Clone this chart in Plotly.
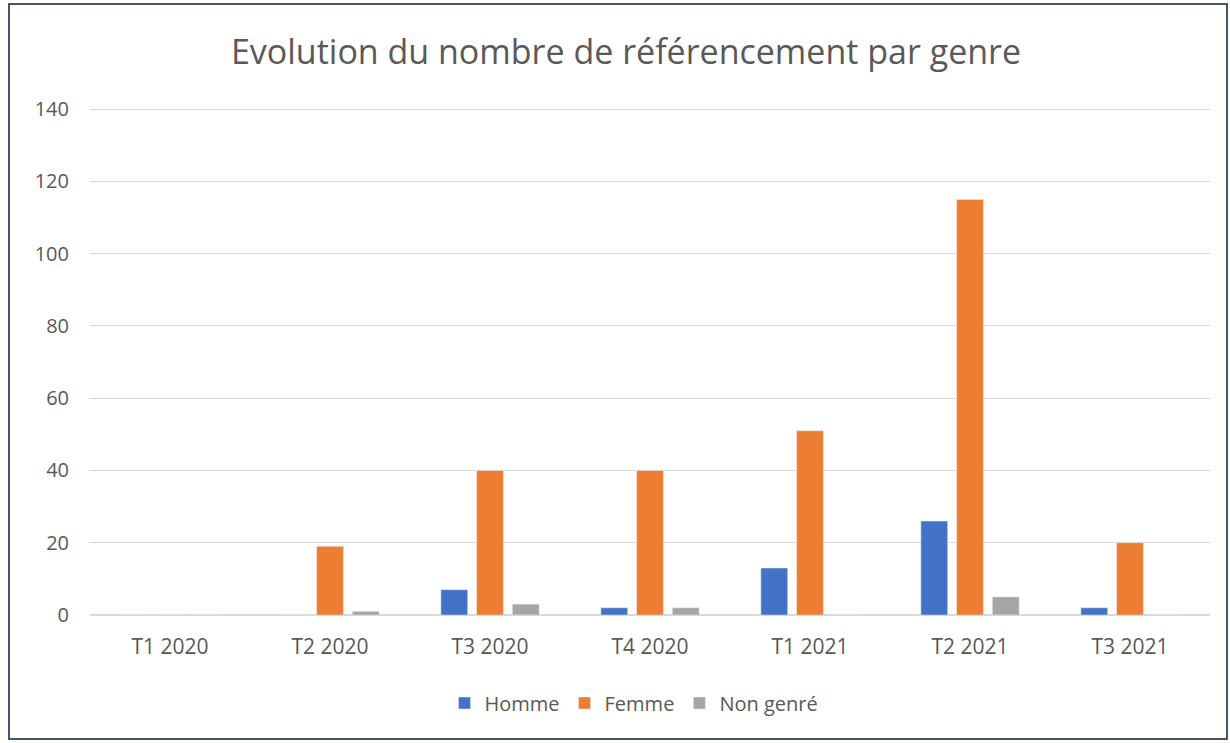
import plotly.graph_objects as go

categories = ["T1 2020", "T2 2020", "T3 2020", "T4 2020", "T1 2021", "T2 2021", "T3 2021"]
homme = [0, 0, 7, 2, 13, 26, 2]
femme = [0, 19, 40, 40, 51, 115, 20]
non_genre = [0, 1, 3, 2, 0, 5, 0]
y_ticks = [0, 20, 40, 60, 80, 100, 120, 140]

font_fam = "Open Sans, Liberation Sans, sans-serif"
text_col = "#595959"

fig = go.Figure()
fig.add_trace(go.Bar(name="Homme", x=categories, y=homme, marker_color="#4472c4"))
fig.add_trace(go.Bar(name="Femme", x=categories, y=femme, marker_color="#ed7d31"))
fig.add_trace(go.Bar(name="Non genré", x=categories, y=non_genre, marker_color="#a5a5a5"))

L, R, T, B = 90, 20, 102, 128
W, H = 1230, 743
pw, ph = W - L - R, H - T - B

def px(x):
    return (x - L) / pw

def py(y):
    return (H - B - y) / ph

fig.update_layout(
    width=W, height=H,
    margin=dict(l=L, r=R, t=T, b=B),
    paper_bgcolor="white", plot_bgcolor="white",
    barmode="group", bargap=0.33, bargroupgap=0.25,
    font=dict(family=font_fam, color=text_col, size=20),
    title=dict(text="Evolution du nombre de référencement par genre",
               x=626 / W, xanchor="center", y=1 - 52 / H, yanchor="middle",
               font=dict(size=34, color=text_col, family=font_fam)),
    legend=dict(orientation="h", x=px(634), xanchor="center", y=py(703), yanchor="middle",
                font=dict(size=20, color=text_col), traceorder="normal"),
    xaxis=dict(showgrid=False, showline=False, ticks="", ticklabelstandoff=17,
               tickfont=dict(size=21, color=text_col)),
    yaxis=dict(range=[0, 142], tickvals=y_ticks, showgrid=True, gridcolor="#d9d9d9",
               zeroline=True, zerolinecolor="#d9d9d9", zerolinewidth=1.5,
               showline=False, ticks="", ticklabelstandoff=20,
               tickfont=dict(size=20, color=text_col)),
    shapes=[dict(type="rect", xref="paper", yref="paper",
                 x0=px(9), x1=px(1227), y0=py(739), y1=py(4),
                 line=dict(color="#44546a", width=2), fillcolor="rgba(0,0,0,0)", layer="below")],
)

fig.write_html("out.html", config={"displayModeBar": False},
               post_script="document.body.style.margin='0';document.documentElement.style.overflow='hidden';")
